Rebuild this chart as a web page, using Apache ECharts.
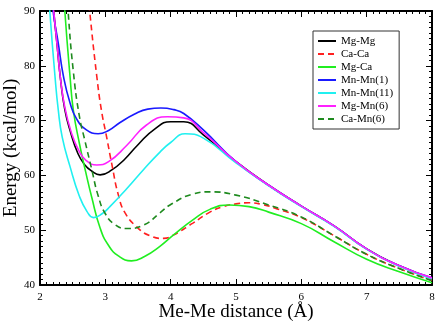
<!DOCTYPE html>
<html>
<head>
<meta charset="utf-8">
<script src="https://cdn.jsdelivr.net/npm/echarts@6/dist/echarts.min.js"></script>
<style>
  html, body { margin: 0; padding: 0; background: #fff; }
  #main { width: 438px; height: 324px; }
</style>
</head>
<body>
<div id="main"></div>
<script>
// distances (Å) and energies (kcal/mol) for each pair
const mgMgX = [2.18, 2.21, 2.26, 2.31, 2.38, 2.47, 2.58, 2.68, 2.79, 2.92, 3.1, 3.3, 3.5, 3.75, 4.0, 4.2, 4.5, 5.0, 5.5, 6.0, 6.5, 7.0, 7.5, 8.0];
const mgMgY = [95, 90, 84, 78, 72, 67.8, 64.0, 62.0, 60.8, 60.1, 61.0, 63.0, 65.6, 68.4, 69.8, 69.8, 67.4, 62.5, 58.2, 54.4, 50.8, 46.6, 43.5, 41.2];

const caCaX = [2.74, 2.76, 2.87, 2.94, 3.02, 3.1, 3.2, 3.3, 3.48, 3.68, 3.89, 4.04, 4.34, 4.6, 4.8, 5.0, 5.2, 5.4, 5.6, 6.0, 6.5, 7.0, 7.5, 8.0];
const caCaY = [93, 90, 78, 71.9, 67.0, 62.0, 56.4, 53.2, 50.6, 49.0, 48.5, 49.1, 51.3, 53.3, 54.3, 54.8, 55.0, 54.7, 54.0, 52.3, 49.0, 45.6, 43.0, 40.8];

const mgCaX = [2.36, 2.38, 2.46, 2.51, 2.6, 2.7, 2.79, 2.92, 3.05, 3.2, 3.4, 3.6, 3.84, 4.04, 4.34, 4.6, 4.9, 5.2, 5.5, 6.0, 6.5, 7.0, 7.5, 8.0];
const mgCaY = [95, 90, 78, 71.9, 66.0, 60.6, 56.1, 50.4, 47.2, 45.3, 44.4, 45.2, 47.1, 49.1, 51.9, 53.8, 54.6, 54.3, 53.3, 51.2, 47.9, 44.7, 42.4, 40.4];

const mnMn1X = [2.18, 2.2, 2.28, 2.36, 2.46, 2.56, 2.71, 2.89, 3.05, 3.22, 3.45, 3.65, 3.85, 4.05, 4.2, 4.5, 5.0, 5.5, 6.0, 6.5, 7.0, 7.5, 8.0];
const mnMn1Y = [94, 90, 84.1, 78, 73.2, 70.3, 68.3, 67.6, 68.2, 69.6, 71.2, 72.1, 72.3, 72.0, 71.3, 68.3, 62.5, 58.2, 54.4, 50.8, 46.6, 43.5, 41.3];

const mnMn11X = [2.13, 2.15, 2.23, 2.28, 2.34, 2.46, 2.6, 2.72, 2.82, 2.95, 3.07, 3.33, 3.58, 3.84, 4.0, 4.22, 4.5, 5.0, 5.5, 6.0, 6.5, 7.0, 7.5, 8.0];
const mnMn11Y = [94, 90, 78, 71.9, 67.0, 61.6, 56.3, 53.4, 52.3, 53.0, 54.3, 57.6, 61.0, 64.3, 66.0, 67.6, 66.8, 62.3, 58.1, 54.3, 50.7, 46.5, 43.4, 41.1];

const mgMn6X = [2.17, 2.21, 2.26, 2.31, 2.38, 2.48, 2.59, 2.7, 2.87, 3.05, 3.33, 3.63, 3.95, 4.2, 4.5, 5.0, 5.5, 6.0, 6.5, 7.0, 7.5, 8.0];
const mgMn6Y = [95, 90, 84, 78, 72.4, 67.8, 64.6, 62.8, 61.9, 62.5, 65.5, 69.2, 70.7, 70.5, 67.8, 62.5, 58.2, 54.4, 50.8, 46.6, 43.5, 41.3];

const caMn6X = [2.41, 2.43, 2.51, 2.6, 2.69, 2.79, 2.89, 3.0, 3.15, 3.33, 3.58, 3.84, 3.99, 4.34, 4.6, 5.0, 5.5, 6.0, 6.5, 7.0, 7.5, 8.0];
const caMn6Y = [95, 90, 79, 71, 66.2, 61.2, 56.3, 53.0, 51.0, 50.3, 50.9, 53.2, 54.6, 56.6, 57.0, 56.4, 54.6, 52.4, 49.0, 45.6, 43.0, 40.8];

const serif = "'Liberation Serif', 'DejaVu Serif', serif";

function pairs(xs, ys) {
  return xs.map((x, i) => [x, ys[i]]);
}

function line(name, xs, ys, color, dashed) {
  return {
    name: name,
    type: "line",
    data: pairs(xs, ys),
    smooth: 0.5,
    symbol: "none",
    lineStyle: { color: color, width: 1.6, type: dashed ? [6, 4] : "solid" },
    itemStyle: { color: color }
  };
}

const chart = echarts.init(document.getElementById("main"));

// top / right axes only carry the mirrored ticks
const frameTicks = (len) => ({ show: true, inside: true, length: len, lineStyle: { color: "#000", width: 1 } });

chart.setOption({
  backgroundColor: "#fff",
  animation: false,
  grid: { left: 40, right: 6, top: 11, bottom: 39, outerBoundsMode: "none" },
  legend: {
    orient: "vertical",
    left: 313,
    top: 31,
    padding: [4, 6, 4, 4],
    itemWidth: 18,
    itemHeight: 10,
    itemGap: 1,
    borderColor: "#333",
    borderWidth: 1,
    itemStyle: { opacity: 0 },
    textStyle: { fontFamily: serif, fontSize: 11, lineHeight: 12, color: "#000" },
    data: ["Mg-Mg", "Ca-Ca", "Mg-Ca", "Mn-Mn(1)", "Mn-Mn(11)", "Mg-Mn(6)", "Ca-Mn(6)"]
  },
  xAxis: [
    {
      type: "value",
      min: 2,
      max: 8,
      interval: 1,
      name: "Me-Me distance (Å)",
      nameLocation: "middle",
      nameGap: 18,
      nameMoveOverlap: false,
      nameTextStyle: { fontFamily: serif, fontSize: 19, color: "#000" },
      axisLine: { lineStyle: { color: "#000", width: 2 } },
      axisTick: frameTicks(6),
      minorTick: { show: true, splitNumber: 10, length: 3, lineStyle: { color: "#000" } },
      axisLabel: { fontFamily: serif, fontSize: 11, color: "#000", margin: 7 },
      splitLine: { show: false }
    },
    {
      type: "value",
      position: "top",
      min: 2,
      max: 8,
      interval: 1,
      axisLine: { show: true, onZero: false, lineStyle: { color: "#000", width: 2 } },
      axisTick: frameTicks(6),
      minorTick: { show: true, splitNumber: 10, length: 3, lineStyle: { color: "#000" } },
      axisLabel: { show: false },
      splitLine: { show: false }
    }
  ],
  yAxis: [
    {
      type: "value",
      min: 40,
      max: 90,
      interval: 10,
      name: "Energy (kcal/mol)",
      nameLocation: "middle",
      nameGap: 19,
      nameMoveOverlap: false,
      nameTextStyle: { fontFamily: serif, fontSize: 19, color: "#000" },
      axisLine: { show: true, lineStyle: { color: "#000", width: 2 } },
      axisTick: frameTicks(6),
      minorTick: { show: true, splitNumber: 10, length: 3, lineStyle: { color: "#000" } },
      axisLabel: { fontFamily: serif, fontSize: 11, color: "#000", margin: 5 },
      splitLine: { show: false }
    },
    {
      type: "value",
      position: "right",
      min: 40,
      max: 90,
      interval: 10,
      axisLine: { show: true, onZero: false, lineStyle: { color: "#000", width: 2 } },
      axisTick: frameTicks(6),
      minorTick: { show: true, splitNumber: 10, length: 3, lineStyle: { color: "#000" } },
      axisLabel: { show: false },
      splitLine: { show: false }
    }
  ],
  series: [
    line("Mg-Mg", mgMgX, mgMgY, "#000000", false),
    line("Ca-Ca", caCaX, caCaY, "#ff2020", true),
    line("Mg-Ca", mgCaX, mgCaY, "#20ee20", false),
    line("Mn-Mn(1)", mnMn1X, mnMn1Y, "#1a1aff", false),
    line("Mn-Mn(11)", mnMn11X, mnMn11Y, "#20f0f0", false),
    line("Mg-Mn(6)", mgMn6X, mgMn6Y, "#ff20ff", false),
    line("Ca-Mn(6)", caMn6X, caMn6Y, "#1e8a1e", true)
  ]
});
</script>
</body>
</html>
